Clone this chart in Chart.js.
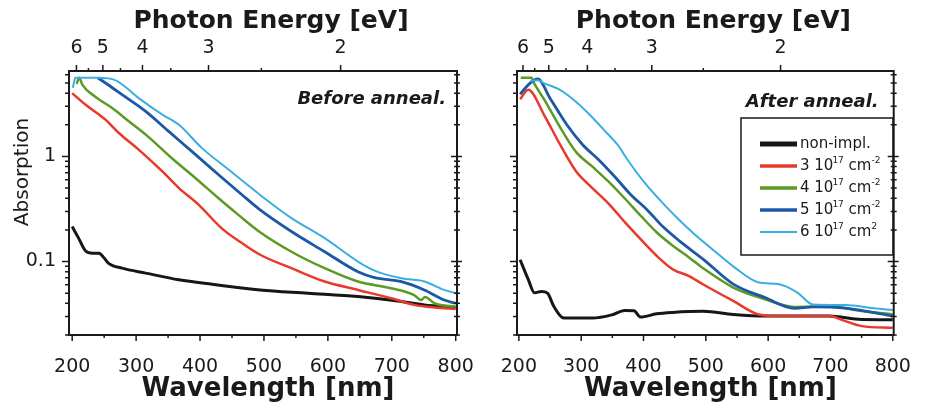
<!DOCTYPE html>
<html>
<head>
<meta charset="utf-8">
<script src="https://cdn.jsdelivr.net/npm/chart.js@4.4.1/dist/chart.umd.min.js"></script>
<style>
  body { margin: 0; background: #fff; }
  #wrap { position: relative; width: 932px; height: 408px; overflow: hidden; }
  #wrap canvas { position: absolute; top: 0; }
  #before { left: 0; width: 500px; height: 408px; }
  #after { left: 466px; width: 466px; height: 408px; }
</style>
</head>
<body>
<div id="wrap">
  <canvas id="before" width="500" height="408"></canvas>
  <canvas id="after" width="466" height="408"></canvas>
</div>
<script>
// Absorption spectra of implanted samples, before and after annealing.
// Each series is a list of [wavelength nm, absorption] pairs.
const beforeNonImpl = [[200,0.215],[210,0.167],[221,0.126],[232,0.12],[242,0.12],[250,0.108],[257,0.096],[278,0.0865],[315,0.0776],[367,0.067],[419,0.0608],[494,0.0537],[569,0.050],[647,0.0464],[709,0.0422],[751,0.0387],[800,0.0365]];
const beforeDose3 = [[200,4.0],[221,3.1],[242,2.5],[252,2.24],[273,1.67],[304,1.16],[341,0.72],[367,0.50],[398,0.346],[434,0.207],[466,0.149],[494,0.116],[543,0.0864],[595,0.0645],[647,0.0537],[699,0.0447],[735,0.0387],[767,0.0365],[800,0.0354]];
const beforeDose4 = [[207,4.9],[211,5.6],[216,4.8],[236,3.7],[262,2.9],[289,2.15],[320,1.52],[356,0.96],[393,0.62],[429,0.40],[460,0.278],[494,0.19],[543,0.124],[595,0.0864],[647,0.0645],[699,0.0557],[735,0.048],[746,0.043],[752,0.046],[767,0.040],[800,0.0373]];
const beforeDose5 = [[240,5.6],[252,5.0],[278,3.87],[315,2.68],[351,1.73],[393,1.04],[429,0.67],[466,0.43],[494,0.31],[543,0.193],[595,0.124],[647,0.080],[673,0.0704],[715,0.0645],[751,0.0537],[782,0.043],[800,0.040]];
const beforeDose6 = [[201,4.5],[205,5.6],[240,5.6],[268,5.3],[304,3.59],[341,2.5],[367,2.0],[403,1.2],[445,0.747],[494,0.43],[543,0.259],[595,0.167],[647,0.10],[673,0.082],[715,0.0693],[751,0.0645],[782,0.0537],[800,0.050]];

const afterNonImpl = [[202,0.104],[215,0.0676],[225,0.0504],[236,0.052],[246,0.050],[256,0.0375],[272,0.029],[318,0.029],[349,0.0311],[370,0.0343],[385,0.034],[395,0.0296],[421,0.0318],[447,0.0328],[496,0.0336],[544,0.0314],[595,0.0303],[647,0.0303],[698,0.0303],[750,0.0281],[800,0.028]];
const afterDose3 = [[202,3.5],[215,4.3],[241,2.45],[266,1.3],[292,0.72],[318,0.5],[344,0.356],[370,0.237],[395,0.164],[421,0.1135],[447,0.0843],[473,0.0728],[496,0.0605],[544,0.0422],[585,0.0314],[621,0.0303],[698,0.0303],[724,0.0271],[750,0.0243],[800,0.0234]];
const afterDose4 = [[203,5.6],[220,5.6],[225,4.9],[241,3.45],[266,1.9],[292,1.1],[318,0.8],[344,0.575],[370,0.398],[395,0.275],[421,0.19],[447,0.1415],[473,0.1095],[496,0.086],[544,0.0566],[595,0.0438],[642,0.037],[698,0.0375],[750,0.0338],[800,0.0314]];
const afterDose5 = [[202,3.9],[215,4.8],[230,5.46],[251,3.5],[277,2.0],[302,1.3],[328,0.93],[354,0.64],[380,0.43],[406,0.31],[431,0.215],[457,0.158],[496,0.105],[544,0.061],[595,0.0454],[642,0.0359],[673,0.037],[724,0.036],[770,0.0326],[800,0.0303]];
const afterDose6 = [[218,5.2],[230,5.3],[241,4.96],[266,4.3],[292,3.3],[318,2.35],[340,1.7],[358,1.3],[376,0.9],[402,0.56],[429,0.37],[457,0.25],[480,0.186],[526,0.11],[544,0.09],[585,0.0632],[616,0.061],[647,0.0507],[672,0.039],[724,0.0385],[770,0.0359],[800,0.0345]];

// axis ticks
const wavelengthTicks = [200, 300, 400, 500, 600, 700, 800];
const wavelengthMinorTicks = [250, 350, 450, 550, 650, 750];
const energyTicks = [6, 5, 4, 3, 2];
const energyMinorTicks = [5.5, 4.5, 3.5, 2.5];
const absorptionTicks = [0.1, 1];
const absorptionMinorTicks = [0.02, 0.03, 0.04, 0.05, 0.06, 0.07, 0.08, 0.09, 0.2, 0.3, 0.4, 0.5, 0.6, 0.7, 0.8, 0.9, 2, 3, 4, 5, 6];

// legend text: dose, superscript exponent, unit exponent
const seriesNames = ['non-impl.', '3', '4', '5', '6'];
const unitExponents = ['', '-2', '-2', '-2', '2'];

const HC = 1239.84; // eV nm
const FONT = '"DejaVu Sans", "Liberation Sans", Arial, sans-serif';
const INK = '#1a1a1a';
const Y_MIN = 0.02, Y_MAX = 6.5;
const AREA_TOP = 71, AREA_BOTTOM = 335;

const seriesStyle = [
  { color: '#161616', width: 3 },
  { color: '#e8392b', width: 2.5 },
  { color: '#5b9b24', width: 2.5 },
  { color: '#1c58a6', width: 2.8 },
  { color: '#3aaee2', width: 2 }
];

function buildDatasets(list) {
  return list.map((pairs, i) => ({
    label: seriesNames[i],
    data: pairs.map(([x, y]) => ({ x, y })),
    borderColor: seriesStyle[i].color,
    borderWidth: seriesStyle[i].width,
    pointRadius: 0,
    fill: false,
    cubicInterpolationMode: 'monotone',
    order: 4 - i
  }));
}

function panelScales(p) {
  return {
    x: {
      type: 'linear', position: 'bottom', min: p.xMin, max: p.xMax,
      grid: { display: false, drawTicks: false },
      border: { display: false },
      afterBuildTicks: s => { s.ticks = wavelengthTicks.map(v => ({ value: v })); },
      ticks: { padding: 21, color: INK, autoSkip: false, maxRotation: 0, font: { family: FONT, size: 19 } },
      afterFit: s => { s.height = 408 - AREA_BOTTOM; }
    },
    xTop: {
      type: 'linear', position: 'top', min: p.xMin, max: p.xMax,
      grid: { display: false, drawTicks: false },
      border: { display: false },
      afterBuildTicks: s => { s.ticks = energyTicks.map(e => ({ value: HC / e })); },
      ticks: { padding: 12, color: INK, autoSkip: false, maxRotation: 0,
        callback: (v, i) => String(energyTicks[i]), font: { family: FONT, size: 19 } },
      afterFit: s => { s.height = AREA_TOP; }
    },
    y: {
      type: 'logarithmic', min: Y_MIN, max: Y_MAX,
      grid: { display: false, drawTicks: false },
      border: { display: false },
      afterBuildTicks: s => { s.ticks = absorptionTicks.map(v => ({ value: v })); },
      ticks: { display: p.yLabels, padding: 13, color: INK, autoSkip: false,
        callback: v => String(v), font: { family: FONT, size: 19 } },
      afterFit: s => { s.width = p.yWidth; }
    }
  };
}

// frame with tick marks on all four sides
const frameTicks = {
  id: 'frameTicks',
  afterDatasetsDraw(chart) {
    const { ctx, chartArea: a } = chart;
    const { x, xTop, y } = chart.scales;
    ctx.save();
    ctx.strokeStyle = INK;
    ctx.lineWidth = 1.5;
    ctx.beginPath();
    const mark = (x1, y1, x2, y2) => { ctx.moveTo(x1, y1); ctx.lineTo(x2, y2); };
    wavelengthTicks.forEach(v => { const px = x.getPixelForValue(v); mark(px, a.bottom, px, a.bottom + 6); });
    wavelengthMinorTicks.forEach(v => { const px = x.getPixelForValue(v); mark(px, a.bottom, px, a.bottom + 3); });
    energyTicks.forEach(e => { const px = xTop.getPixelForValue(HC / e); mark(px, a.top, px, a.top - 6); });
    energyMinorTicks.forEach(e => { const px = xTop.getPixelForValue(HC / e); mark(px, a.top, px, a.top - 3); });
    absorptionTicks.forEach(v => {
      const py = y.getPixelForValue(v);
      mark(a.left - 7, py, a.left, py);
      mark(a.right - 6, py, a.right + 5, py);
    });
    absorptionMinorTicks.forEach(v => {
      const py = y.getPixelForValue(v);
      mark(a.left - 4, py, a.left, py);
      mark(a.right - 3, py, a.right + 3, py);
    });
    ctx.stroke();
    ctx.lineWidth = 2;
    ctx.strokeRect(a.left, a.top, a.right - a.left, a.bottom - a.top);
    ctx.restore();
  }
};

// axis titles, panel caption and legend box
const panelNotes = {
  id: 'panelNotes',
  afterDraw(chart, args, opts) {
    const { ctx, chartArea: a } = chart;
    const mid = (a.left + a.right) / 2;
    ctx.save();
    ctx.fillStyle = INK;
    ctx.textBaseline = 'alphabetic';
    ctx.textAlign = 'center';
    ctx.font = `bold 25px ${FONT}`;
    ctx.fillText('Photon Energy [eV]', mid + 8, 28);
    ctx.font = `bold 26px ${FONT}`;
    ctx.fillText('Wavelength [nm]', mid + 5, 396);

    ctx.font = `italic bold 18px ${FONT}`;
    ctx.textAlign = 'right';
    ctx.fillText(opts.caption, a.right - opts.captionInset, opts.captionBaseline);

    if (opts.yTitle) {
      ctx.save();
      ctx.translate(23, 172);
      ctx.rotate(-Math.PI / 2);
      ctx.textAlign = 'center';
      ctx.textBaseline = 'middle';
      ctx.font = `20px ${FONT}`;
      ctx.fillText(opts.yTitle, 0, 0);
      ctx.restore();
    }

    if (opts.legend) {
      const box = opts.legend;
      ctx.strokeStyle = INK;
      ctx.lineWidth = 1.5;
      ctx.strokeRect(box.left, box.top, box.width, box.height);
      ctx.textAlign = 'left';
      ctx.textBaseline = 'middle';
      chart.data.datasets.forEach((ds, i) => {
        const ry = box.top + 26 + i * 22;
        ctx.strokeStyle = ds.borderColor;
        ctx.lineWidth = i === 0 ? 5 : (i === 4 ? 2 : 3.5);
        ctx.beginPath();
        ctx.moveTo(box.left + 19, ry);
        ctx.lineTo(box.left + 56, ry);
        ctx.stroke();
        ctx.fillStyle = INK;
        let tx = box.left + 59;
        const put = (text, size, dy) => {
          ctx.font = `${size}px ${FONT}`;
          ctx.fillText(text, tx, ry + dy);
          tx += ctx.measureText(text).width;
        };
        if (i === 0) {
          put(seriesNames[0], 15, 0);
        } else {
          put(seriesNames[i] + ' 10', 15, 0);
          tx -= 1;
          put('17', 9, -5);
          put(' cm', 15, 0);
          put(unitExponents[i], 9, -5);
        }
      });
    }
    ctx.restore();
  }
};

function makePanel(id, series, p, notes) {
  return new Chart(document.getElementById(id), {
    type: 'line',
    data: { datasets: buildDatasets(series) },
    options: {
      responsive: false,
      animation: false,
      layout: { padding: { left: 0, right: p.padRight, top: 0, bottom: 0 } },
      scales: panelScales(p),
      plugins: { legend: { display: false }, tooltip: { enabled: false }, panelNotes: notes }
    },
    plugins: [frameTicks, panelNotes]
  });
}

makePanel('before',
  [beforeNonImpl, beforeDose3, beforeDose4, beforeDose5, beforeDose6],
  { xMin: 195, xMax: 802, yLabels: true, yWidth: 69, padRight: 43 },
  { caption: 'Before anneal.', captionInset: 11, captionBaseline: 104, yTitle: 'Absorption' });

makePanel('after',
  [afterNonImpl, afterDose3, afterDose4, afterDose5, afterDose6],
  { xMin: 197, xMax: 801.5, yLabels: false, yWidth: 51, padRight: 24 },
  { caption: 'After anneal.', captionInset: 15, captionBaseline: 107,
    legend: { left: 275, top: 118, width: 152, height: 137 } });
</script>
</body>
</html>
